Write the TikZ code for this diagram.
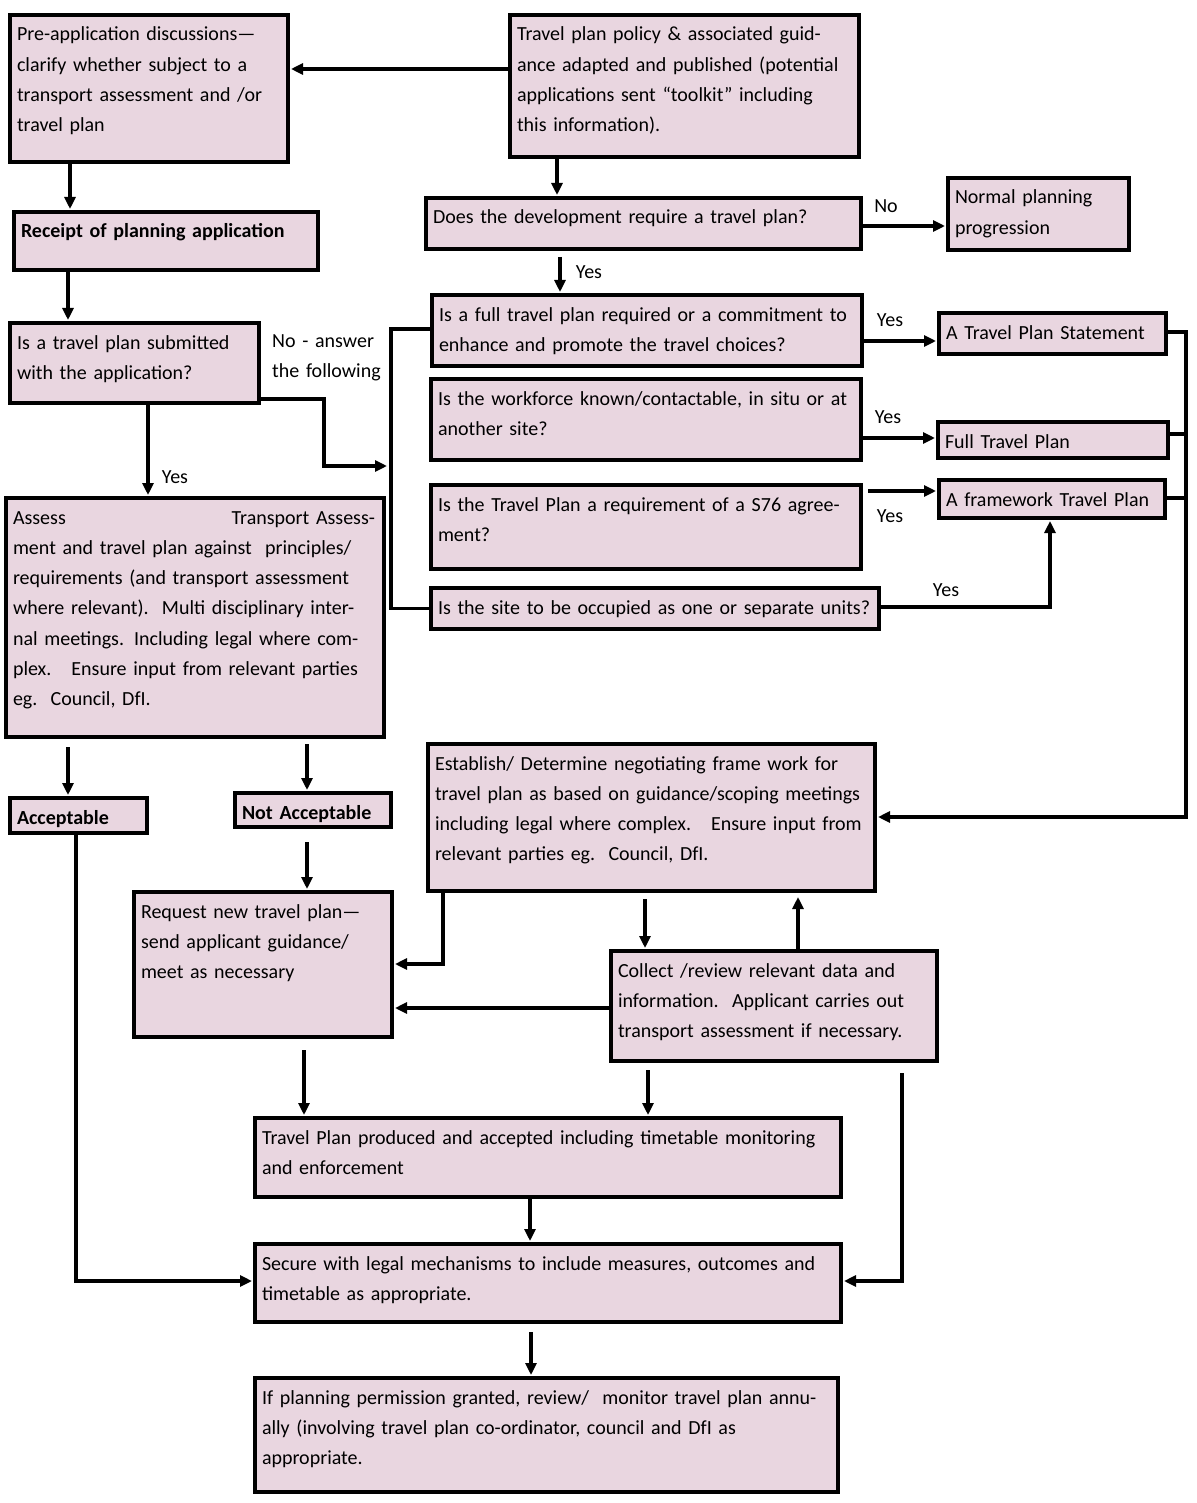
\documentclass[tikz,border=0pt]{standalone}
\usepackage{fontspec}
\setmainfont{Carlito}
\usetikzlibrary{arrows.meta}
\definecolor{boxfill}{RGB}{233,214,224}
\newcommand\fs{\fontsize{20}{30.3}\selectfont}
\tikzset{
  box/.style={draw=black, line width=4pt, fill=boxfill, anchor=north west,
    inner xsep=0pt, inner ysep=0pt, align=left, font=\fs},
  arr/.style={line width=3.5pt, -{Triangle[length=12pt,width=11pt]}, shorten >=1pt},
  ln/.style={line width=3.5pt},
  lbl/.style={font=\fs, inner sep=0pt}
}
\newcommand\flowbox[6]{%
  \pgfmathsetmacro\bw{#4-#2-4}%
  \pgfmathsetmacro\bh{#5-#3-4}%
  \pgfmathsetmacro\bd{\bh-26}%
  \pgfmathsetmacro\tw{\bw-7}%
  \node[box, minimum width=\bw pt, minimum height=\bh pt, text width=\bw pt,
        text height=26pt, text depth=\bd pt] (#1) at (#2+2,#3+2)
        {\hspace*{7pt}\parbox[t]{\tw pt}{\raggedright #6}};%
}
\begin{document}
\begin{tikzpicture}[x=1pt,y=-1pt]
\useasboundingbox[fill=white] (0,0) rectangle (1196,1503);

\flowbox{pre}{6}{11}{288}{162}{Pre-application discussions—\\clarify whether subject to a\\transport assessment and /or\\travel plan}
\flowbox{policy}{506}{11}{859}{157}{Travel plan policy \& associated guid-\\ance adapted and published (potential\\applications sent “toolkit” including\\this information).}
\flowbox{receipt}{10}{208}{318}{270}{\textbf{Receipt of planning application}}
\flowbox{does}{422}{194}{861}{249}{Does the development require a travel plan?}
\flowbox{normal}{944}{174}{1129}{250}{Normal planning\\progression}
\flowbox{submitted}{6}{319}{259}{403}{Is a travel plan submitted\\with the application?}
\flowbox{full}{428}{291}{862}{366}{Is a full travel plan required or a commitment to\\enhance and promote the travel choices?}
\flowbox{tps}{935}{309}{1166}{354}{A Travel Plan Statement}
\flowbox{work}{427}{375}{861}{460}{Is the workforce known/contactable, in situ or at\\another site?}
\flowbox{ftp}{934}{418}{1168}{458}{Full Travel Plan}
\flowbox{s76}{427}{481}{861}{569}{Is the Travel Plan a requirement of a S76 agree-\\ment?}
\flowbox{frame}{935}{476}{1165}{518}{A framework Travel Plan}
\flowbox{occupied}{427}{584}{879}{629}{Is the site to be occupied as one or separate units?}
\flowbox{assess}{2}{494}{384}{737}{\makebox[362pt]{Assess\hfill Transport Assess-}\\ment and travel plan against\ \ principles/\\requirements (and transport assessment\\where relevant).\ \ Multi disciplinary inter-\\nal meetings. Including legal where com-\\plex.\ \ \ Ensure input from relevant parties\\eg.\ \ Council, DfI.}
\flowbox{acc}{6}{794}{147}{833}{\textbf{Acceptable}}
\flowbox{notacc}{231}{789}{391}{827}{\textbf{Not Acceptable}}
\flowbox{establish}{424}{740}{875}{891}{Establish/ Determine negotiating frame work for\\travel plan as based on guidance/scoping meetings\\including legal where complex.\ \ \ Ensure input from\\relevant parties eg.\ \ Council, DfI.}
\flowbox{request}{130}{888}{392}{1037}{Request new travel plan—\\send applicant guidance/\\meet as necessary}
\flowbox{collect}{607}{947}{937}{1061}{Collect /review relevant data and\\information.\ \ Applicant carries out\\transport assessment if necessary.}
\flowbox{produced}{251}{1114}{841}{1197}{Travel Plan produced and accepted including timetable monitoring\\and enforcement}
\flowbox{secure}{251}{1240}{841}{1322}{Secure with legal mechanisms to include measures, outcomes and\\timetable as appropriate.}
\flowbox{permit}{251}{1374}{838}{1492}{If planning permission granted, review/\ \ monitor travel plan annu-\\ally (involving travel plan co-ordinator, council and DfI as\\appropriate.}

% labels
\node[lbl] (lno) at (886,206) {No};
\node[lbl] (lyes1) at (589,272) {Yes};
\node[lbl, anchor=north west, text width=130pt, text height=13pt, align=left] (lnoans) at (272,334) {No - answer\\the following};
\node[lbl] (lyes2) at (175,477) {Yes};
\node[lbl] (lyes3) at (890,320) {Yes};
\node[lbl] (lyes4) at (888,417) {Yes};
\node[lbl] (lyes5) at (890,516) {Yes};
\node[lbl] (lyes6) at (946,590) {Yes};

% connectors
\draw[arr] (policy.west |- 0,69) -- (pre.east |- 0,69);
\draw[arr] (pre.south -| 70,0) -- (receipt.north -| 70,0);
\draw[arr] (policy.south -| 557,0) -- (does.north -| 557,0);
\draw[arr] (does.east |- 0,226) -- (normal.west |- 0,226);
\draw[arr, shorten <=6pt] (does.south -| 560,0) -- (full.north -| 560,0);
\draw[arr] (receipt.south -| 68,0) -- (submitted.north -| 68,0);
\coordinate (brk) at (388,466);
\draw[arr] (submitted.east |- 0,399) -- ++(63,0) |- (brk);
\draw[ln] (full.west |- 0,329) -| (occupied.west -| 391,0) -- (occupied.west);
\draw[arr] (submitted.south -| 148,0) -- (assess.north -| 148,0);
\draw[arr] (full.east |- 0,341) -- (tps.west |- 0,341);
\draw[arr] (work.east |- 0,438) -- (ftp.west |- 0,438);
\draw[arr, shorten <=5pt] (s76.east |- 0,491) -- (frame.west |- 0,491);
\draw[arr] (occupied.east |- 0,607) -| (frame.south -| 1050,0);
\coordinate (rb) at (1186,817);
\draw[arr] (tps.east |- 0,332) -| (rb) -- (establish.east |- rb);
\draw[ln] (ftp.east |- 0,434) -- (rb |- 0,434);
\draw[ln] (frame.east |- 0,498) -- (rb |- 0,498);
\draw[arr, shorten <=8pt] (assess.south -| 68,0) -- (acc.north -| 68,0);
\draw[arr, shorten <=5pt] (assess.south -| 307,0) -- (notacc.north -| 307,0);
\draw[arr, shorten <=13pt] (notacc.south -| 307,0) -- (request.north -| 307,0);
\draw[arr] (acc.south -| 76,0) |- (secure.west |- 0,1281);
\draw[arr] (establish.south -| 443,0) |- (request.east |- 0,964);
\draw[arr, shorten <=6pt] (establish.south -| 645,0) -- (collect.north -| 645,0);
\draw[arr, shorten >=4pt] (collect.north -| 798,0) -- (establish.south -| 798,0);
\draw[arr] (collect.west |- 0,1008) -- (request.east |- 0,1008);
\draw[arr, shorten <=11pt] (request.south -| 304,0) -- (produced.north -| 304,0);
\draw[arr, shorten <=7pt] (collect.south -| 648,0) -- (produced.north -| 648,0);
\draw[arr, shorten <=10pt] (collect.south -| 902,0) |- (secure.east |- 0,1281);
\draw[arr] (produced.south -| 530,0) -- (secure.north -| 530,0);
\draw[arr, shorten <=8pt] (secure.south -| 531,0) -- (permit.north -| 531,0);
\end{tikzpicture}
\end{document}
